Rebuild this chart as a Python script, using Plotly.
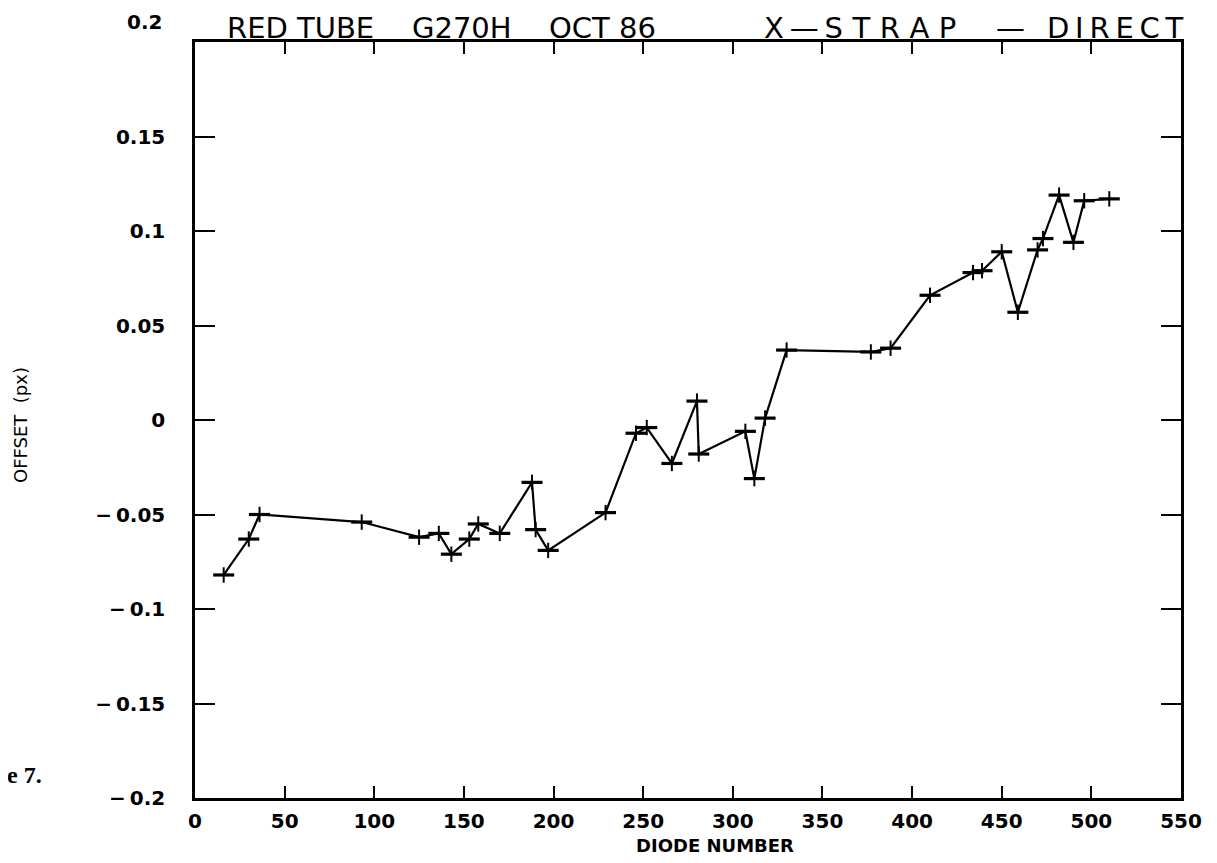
import plotly.graph_objects as go

diode = [16, 30, 36, 93, 125, 136, 143, 153, 158, 170, 188, 190, 197, 229, 246, 252,
         266, 280, 281, 307, 312, 318, 330, 377, 388, 410, 434, 439, 450, 459, 470, 473,
         482, 490, 496, 510]
offset = [-0.082, -0.063, -0.050, -0.054, -0.062, -0.060, -0.071, -0.063, -0.055, -0.060,
          -0.033, -0.058, -0.069, -0.049, -0.007, -0.004, -0.023, 0.010, -0.018, -0.006,
          -0.031, 0.001, 0.037, 0.036, 0.038, 0.066, 0.078, 0.079, 0.089, 0.057, 0.090, 0.096,
          0.119, 0.094, 0.116, 0.117]

x_ticks = [0, 50, 100, 150, 200, 250, 300, 350, 400, 450, 500, 550]
y_ticks = [-0.2, -0.15, -0.1, -0.05, 0, 0.05, 0.1, 0.15, 0.2]
y_tick_text = ["\u2212\u20090.2", "\u2212\u20090.15", "\u2212\u20090.1", "\u2212\u20090.05", "0",
               "0.05", "0.1", "0.15", ""]
top_label = "0.2"

title_parts = ["RED TUBE", "G270H", "OCT 86",
               "X\u2009\u2014\u2009S\u2004T\u2004R\u2004A\u2004P", "\u2014",
               "D\u2009I\u2009R\u2009E\u2009C\u2009T"]
title_centers = [300, 462, 602, 860, 1010, 1115]

W, H = 1217, 863
ML, MR, MT, MB = 187, 44, 34, 73
PW, PH = W - ML - MR, H - MT - MB
OFF = 8  # page body margin


def px(page_x):
    return (page_x - OFF - ML) / PW


def py(page_y):
    return (H - MB - (page_y - OFF)) / PH


fig = go.Figure()
fig.add_trace(go.Scatter(
    x=diode, y=offset, mode="lines",
    line=dict(color="black", width=2.2),
    showlegend=False, hoverinfo="skip",
))
fig.add_trace(go.Scatter(
    x=diode, y=offset, mode="markers",
    marker=dict(symbol="line-ew", size=15, line=dict(color="black", width=3.2)),
    showlegend=False,
))
fig.add_trace(go.Scatter(
    x=diode, y=offset, mode="markers",
    marker=dict(symbol="line-ns", size=11, line=dict(color="black", width=2)),
    showlegend=False, hoverinfo="skip",
))

tickfont = dict(family="DejaVu Sans", size=20, color="black", weight="bold")

annotations = []
for txt, cx in zip(title_parts, title_centers):
    annotations.append(dict(text=txt, xref="paper", yref="paper", x=px(cx), y=py(28),
                            xanchor="center", yanchor="middle", showarrow=False,
                            font=dict(family="DejaVu Sans", size=29, color="black")))
annotations.append(dict(text=top_label, xref="paper", yref="paper", x=px(164), y=py(22),
                        xanchor="right", yanchor="middle", showarrow=False, font=tickfont))
annotations.append(dict(text="DIODE NUMBER", xref="paper", yref="paper", x=px(715), y=py(845),
                        xanchor="center", yanchor="middle", showarrow=False,
                        font=dict(family="DejaVu Sans", size=18, color="black", weight="bold")))
annotations.append(dict(text="OFFSET  (px)", xref="paper", yref="paper", x=px(20), y=py(425),
                        xanchor="center", yanchor="middle", showarrow=False, textangle=-90,
                        font=dict(family="DejaVu Sans", size=18, color="black")))
annotations.append(dict(text="<b>e 7.</b>", xref="paper", yref="paper", x=px(44), y=py(775),
                        xanchor="right", yanchor="middle", showarrow=False,
                        font=dict(family="Liberation Serif", size=24, color="black")))

fig.update_layout(
    width=W, height=H,
    margin=dict(l=ML, r=MR, t=MT, b=MB),
    paper_bgcolor="white", plot_bgcolor="white",
    xaxis=dict(range=[0, 550], tickvals=x_ticks, ticktext=[str(v) for v in x_ticks],
               ticks="inside", ticklen=12, tickwidth=1.5, tickcolor="black",
               showline=True, linewidth=2.5, linecolor="black", mirror="ticks",
               showgrid=False, zeroline=False, tickfont=tickfont, ticklabelstandoff=3),
    yaxis=dict(range=[-0.2, 0.2], tickvals=y_ticks, ticktext=y_tick_text,
               ticks="inside", ticklen=20, tickwidth=2, tickcolor="black",
               showline=True, linewidth=2.5, linecolor="black", mirror="ticks",
               showgrid=False, zeroline=False, tickfont=tickfont, ticklabelstandoff=23),
    annotations=annotations,
)

fig.write_html("out.html")
